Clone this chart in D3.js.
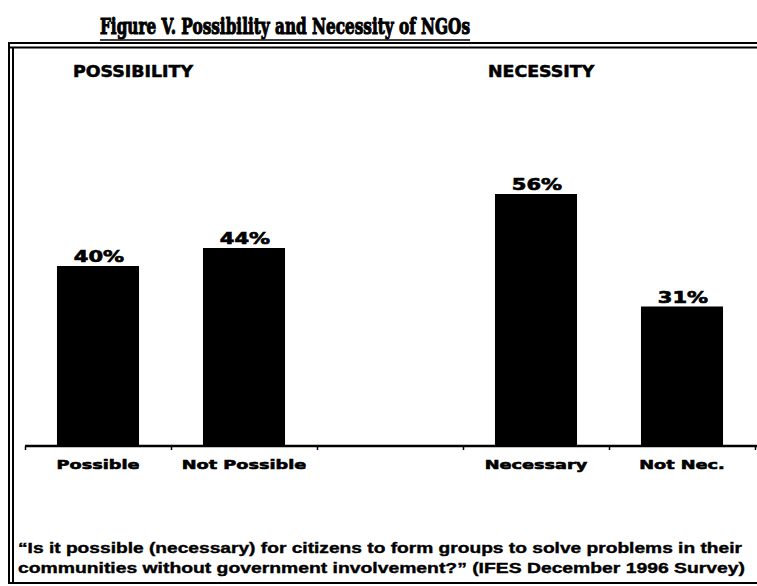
<!DOCTYPE html>
<html>
<head>
<meta charset="utf-8">
<script src="https://cdn.jsdelivr.net/npm/d3@7"></script>
<style>
  html, body { margin: 0; padding: 0; background: #fff; }
  svg { display: block; }
</style>
</head>
<body>
<div id="chart"></div>
<script>
// Survey results (percent of respondents)
const categories = ["Possible", "Not Possible", "gap", "Necessary", "Not Nec."];
const values = [40, 44, null, 56, 31];
const valueLabels = ["40%", "44%", "", "56%", "31%"];
const groupTitles = ["POSSIBILITY", "NECESSITY"];
const groupFirst = ["Possible", "Necessary"];
const title = "Figure V. Possibility and Necessity of NGOs";
const noteLines = [
  "\u201CIs it possible (necessary) for citizens to form groups to solve problems in their",
  "communities without government involvement?\u201D  (IFES December 1996 Survey)"
];

const W = 757, H = 586;
const svg = d3.select("#chart").append("svg")
  .attr("width", W).attr("height", H);

const baseY = 446;
const x = d3.scaleBand().domain(categories).range([25, 755])
  .paddingInner(0.438).paddingOuter(0.219);
const y = d3.scaleLinear().domain([0, 60]).range([baseY, baseY - 270]);

const sans = "'DejaVu Sans', 'Liberation Sans', Arial, sans-serif";

// Widen a text's glyphs by a factor (the lettering is an extended heavy sans)
function stretch(sel, k) {
  sel.each(function () {
    const w = this.getComputedTextLength();
    if (w > 0) d3.select(this).attr("textLength", w * k).attr("lengthAdjust", "spacingAndGlyphs");
  });
}

// Frame: double top rule, double left rule, bottom rule
const frame = svg.append("g").attr("stroke", "#000").attr("fill", "none");
frame.append("line").attr("x1", 8).attr("x2", W).attr("y1", 43).attr("y2", 43).attr("stroke-width", 2);
frame.append("line").attr("x1", 8).attr("x2", W).attr("y1", 47.5).attr("y2", 47.5).attr("stroke-width", 2);
frame.append("line").attr("x1", 9).attr("x2", 9).attr("y1", 42).attr("y2", 584).attr("stroke-width", 2);
frame.append("line").attr("x1", 13).attr("x2", 13).attr("y1", 47).attr("y2", 584).attr("stroke-width", 2);
frame.append("line").attr("x1", 8).attr("x2", W).attr("y1", 583).attr("y2", 583).attr("stroke-width", 2);

// Title (heavy serif, underlined)
svg.append("text")
  .attr("x", 100).attr("y", 34)
  .attr("textLength", 370).attr("lengthAdjust", "spacingAndGlyphs")
  .attr("font-family", "'DejaVu Serif', 'Liberation Serif', serif")
  .attr("font-weight", "bold").attr("font-size", 23)
  .attr("stroke", "#000").attr("stroke-width", 1.1)
  .text(title);
svg.append("line").attr("x1", 100).attr("x2", 470).attr("y1", 40).attr("y2", 40)
  .attr("stroke", "#000").attr("stroke-width", 1.5);

// Group headings above each pair of bars
groupTitles.forEach((t, i) => {
  const x0 = x(groupFirst[i]) + (i === 0 ? 16 : -7);
  svg.append("text")
    .attr("x", x0).attr("y", 77)
    .attr("font-family", sans).attr("font-weight", "bold")
    .attr("font-size", 15)
    .attr("stroke", "#000").attr("stroke-width", 0.5)
    .text(t)
    .call(stretch, 1.16);
});

// Bars
const data = categories.map((c, i) => ({ c, v: values[i], label: valueLabels[i] }))
  .filter(d => d.v != null);

svg.append("g").selectAll("rect").data(data).join("rect")
  .attr("x", d => x(d.c))
  .attr("y", d => y(d.v))
  .attr("width", x.bandwidth())
  .attr("height", d => y(0) - y(d.v))
  .attr("fill", "#000");

// Value labels
svg.append("g").selectAll("text").data(data).join("text")
  .attr("x", d => x(d.c) + x.bandwidth() / 2 + 1)
  .attr("y", d => y(d.v) - 4)
  .attr("text-anchor", "middle")
  .attr("font-family", sans).attr("font-weight", "bold")
  .attr("font-size", 15)
  .attr("stroke", "#000").attr("stroke-width", 0.6)
  .text(d => d.label)
  .call(stretch, 1.4);

// Baseline with tick marks at band boundaries
const tickScale = d3.scaleLinear().domain([0, categories.length]).range([25, 755]);
const tickAxis = svg.append("g").attr("transform", `translate(0,${baseY})`)
  .call(d3.axisBottom(tickScale).tickValues(d3.range(categories.length + 1)).tickSize(4).tickFormat(""));
tickAxis.select(".domain").attr("d", `M25,0H${W}`).attr("stroke-width", 2.5);
tickAxis.selectAll(".tick line").attr("stroke-width", 1.5);

// Category labels
const catAxis = svg.append("g").attr("transform", `translate(0,${baseY})`)
  .call(d3.axisBottom(x).tickSize(0).tickPadding(14).tickFormat(d => d === "gap" ? "" : d));
catAxis.select(".domain").remove();
catAxis.selectAll("text")
  .attr("font-family", sans).attr("font-weight", "bold")
  .attr("font-size", 13)
  .attr("fill", "#000").attr("stroke", "#000").attr("stroke-width", 0.6)
  .call(stretch, 1.36);

// Question note
noteLines.forEach((line, i) => {
  svg.append("text")
    .attr("x", 18).attr("y", 553 + i * 19.5)
    .attr("textLength", i === 0 ? 724 : 727).attr("lengthAdjust", "spacingAndGlyphs")
    .attr("font-family", "'Liberation Sans', Arial, sans-serif")
    .attr("font-weight", "bold").attr("font-size", 15.5)
    .attr("stroke", "#000").attr("stroke-width", 0.4)
    .text(line);
});
</script>
</body>
</html>
